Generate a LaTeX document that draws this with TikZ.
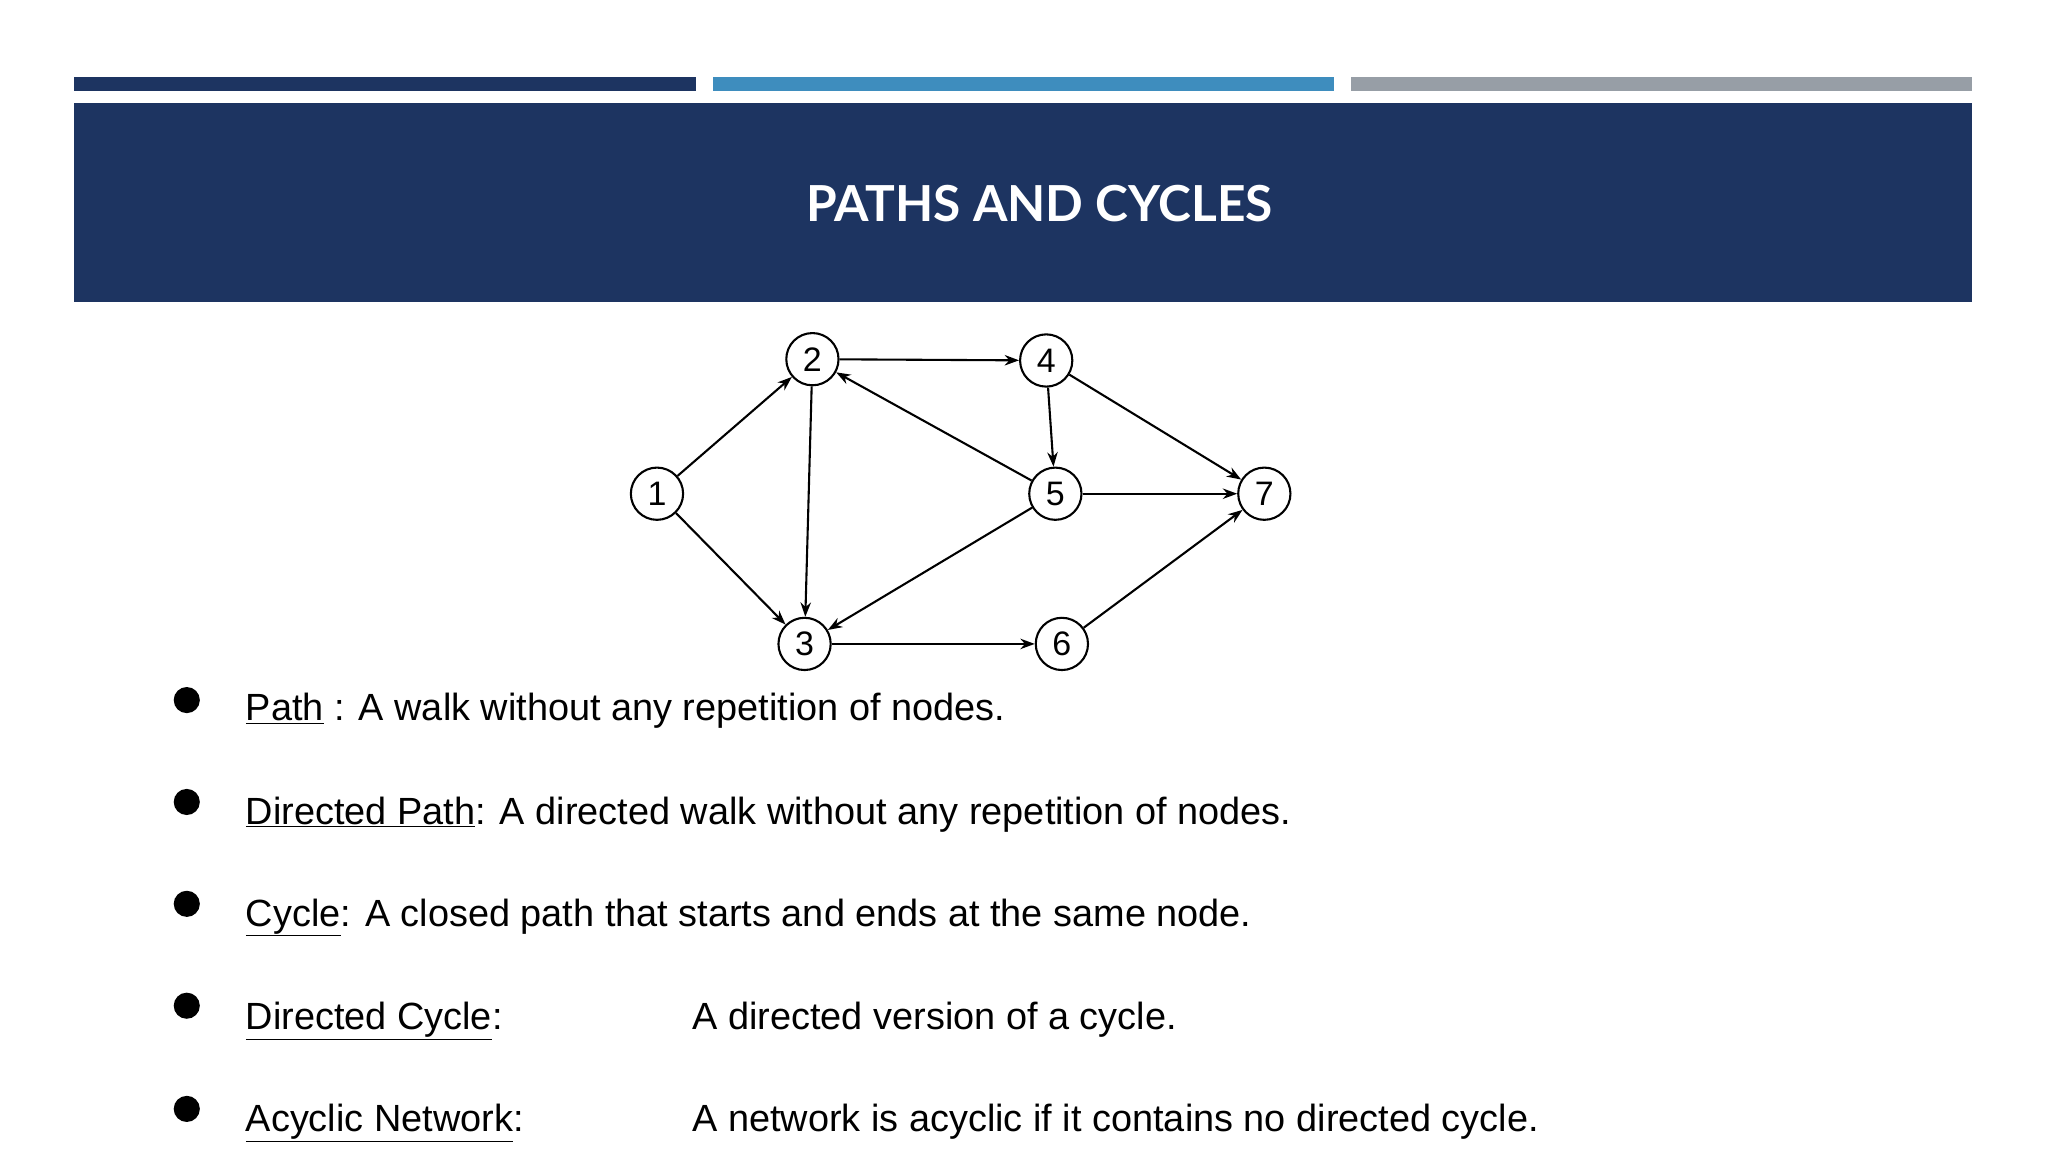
\documentclass[tikz,border=0pt]{standalone}
\usepackage{fontspec}
\setmainfont{Liberation Sans}
\newfontfamily\titlefont{Lato}
\usetikzlibrary{arrows.meta}
\definecolor{navy}{HTML}{1D3461}
\definecolor{bluebar}{HTML}{3E8DBE}
\definecolor{graybar}{HTML}{979EA6}
\begin{document}
\begin{tikzpicture}[x=1pt,y=-1pt,
  vert/.style={circle,draw,line width=1.6pt,minimum size=40pt,inner sep=0pt,font=\fontsize{26}{26}\selectfont},
  arc/.style={line width=1.6pt,-{Stealth[length=11pt,width=8pt]}},
  item/.style={anchor=base west,font=\fontsize{29}{32}\selectfont,inner sep=0pt}]
\useasboundingbox (0,0) rectangle (1568,882);
\fill[white] (0,0) rectangle (1568,882);
\fill[navy] (57,59) rectangle (533,70);
\fill[bluebar] (546,59) rectangle (1021,70);
\fill[graybar] (1034,59) rectangle (1510,70);
\fill[navy] (57,79) rectangle (1510,231);
\node[white,font=\titlefont\bfseries\fontsize{38}{40}\selectfont] (title) at (796,156) {PATHS AND CYCLES};
\node[vert] (n1) at (503,378) {1};
\node[vert] (n2) at (622,275) {2};
\node[vert] (n4) at (801,276) {4};
\node[vert] (n5) at (808,378) {5};
\node[vert] (n7) at (968,378) {7};
\node[vert] (n3) at (616,493) {3};
\node[vert] (n6) at (813,493) {6};
\draw[arc] (n1) -- (n2);
\draw[arc] (n1) -- (n3);
\draw[arc] (n2) -- (n4);
\draw[arc] (n2) -- (n3);
\draw[arc] (n5) -- (n2);
\draw[arc] (n4) -- (n5);
\draw[arc] (n4) -- (n7);
\draw[arc] (n5) -- (n7);
\draw[arc] (n5) -- (n3);
\draw[arc] (n3) -- (n6);
\draw[arc] (n6) -- (n7);
\foreach \y in {536,614,692,770,849} \fill (143,\y) circle (10);
\node[item] (t1) at (188,552) {\underline{Path} : A walk without any repetition of nodes.};
\node[item] (t2) at (188,631) {\underline{Directed Path}: A directed walk without any repetition of nodes.};
\node[item] (t3) at (188,709) {\underline{Cycle}: A closed path that starts and ends at the same node.};
\node[item] (t4) at (188,788) {\underline{Directed Cycle}:};
\node[item] (t4b) at (530,788) {A directed version of a cycle.};
\node[item] (t5) at (188,866) {\underline{Acyclic Network}:};
\node[item] (t5b) at (530,866) {A network is acyclic if it contains no directed cycle.};
\end{tikzpicture}
\end{document}
